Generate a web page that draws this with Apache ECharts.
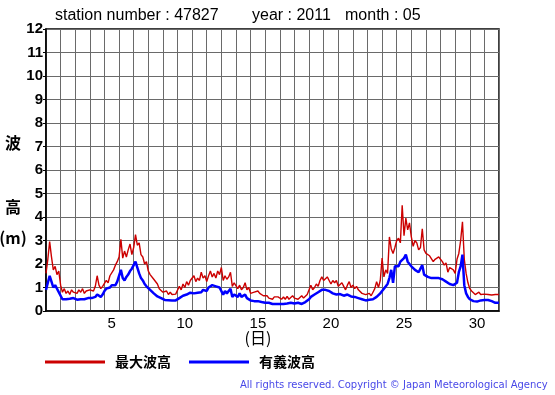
<!DOCTYPE html>
<html><head><meta charset="utf-8">
<script src="https://cdn.jsdelivr.net/npm/echarts@6/dist/echarts.min.js"></script>
<style>html,body{margin:0;padding:0;background:#fff}#c{width:555px;height:395px}</style>
</head><body><div id="c"></div>
<script>
// day labels (x categories)
const dayLabels = ['1','2','3','4','5','6','7','8','9','10','11','12','13','14','15','16','17','18','19','20','21','22','23','24','25','26','27','28','29','30','31'];
const shownDays = ['5','10','15','20','25','30'];
const yTicks = [0,1,2,3,4,5,6,7,8,9,10,11,12];
const stepDays = 0.125; // 3-hourly samples from May 1 00:00

// 最大波高 (m), 8 samples per day
const maxWave = [
 1.6,2.2,2.95,2.3,1.75,1.9,1.55,1.7,
 1.1,0.8,0.95,0.75,0.85,0.7,0.9,0.8,
 0.85,0.75,0.9,0.8,0.95,0.75,0.85,0.9,
 0.9,0.95,0.85,1.05,1.5,1.1,0.95,1.05,
 1.1,1.3,1.2,1.5,1.45,1.75,1.95,2.1,
 2.3,3.05,2.25,2.55,2.3,2.6,2.85,2.4,
 2.7,3.25,2.8,2.9,2.4,2.3,2.0,2.1,
 1.7,1.55,1.6,1.35,1.3,1.15,0.95,1.0,
 0.8,0.75,0.85,0.7,0.8,0.7,0.78,0.72,
 0.8,1.05,0.9,1.15,1.0,1.25,1.1,1.3,
 1.35,1.5,1.25,1.4,1.3,1.65,1.4,1.5,
 1.25,1.5,1.7,1.45,1.6,1.4,1.7,1.55,
 1.85,1.3,1.5,1.35,1.45,1.65,1.05,1.2,
 1.15,0.95,1.1,0.9,1.0,1.2,0.9,1.0,
 0.75,0.7,0.8,0.75,0.85,0.75,0.8,0.65,
 0.6,0.65,0.55,0.6,0.5,0.6,0.55,0.6,
 0.55,0.5,0.6,0.5,0.62,0.5,0.55,0.65,
 0.55,0.6,0.5,0.55,0.65,0.55,0.6,0.7,
 0.75,1.1,0.9,1.0,1.15,1.05,1.3,1.45,
 1.3,1.25,1.45,1.3,1.15,1.3,1.2,1.3,
 1.05,1.0,1.2,1.05,0.9,1.1,1.25,1.0,
 1.1,0.95,1.05,0.9,0.85,0.75,0.8,0.7,
 0.7,0.75,0.65,0.8,0.95,1.25,1.0,1.3,
 2.25,1.45,1.75,1.6,3.15,2.65,2.45,2.7,
 3.0,3.1,2.9,4.5,3.2,3.95,3.45,3.75,
 3.15,2.75,3.0,2.9,2.6,2.7,3.5,2.6,
 2.45,2.5,2.35,2.3,2.1,2.2,2.15,2.3,
 2.25,2.1,1.95,2.05,1.65,1.85,1.9,1.75,
 1.6,2.2,2.45,3.0,3.8,2.2,1.6,1.2,
 0.95,0.85,0.8,0.7,0.75,0.8,0.7,0.78,
 0.72,0.8,0.7,0.75,0.68,0.75,0.7,0.65,
 0.7
];
// 有義波高 (m), 8 samples per day
const sigWave = [
 0.9,1.2,1.5,1.25,1.0,1.1,0.95,1.0,
 0.65,0.5,0.55,0.5,0.48,0.52,0.5,0.55,
 0.5,0.48,0.55,0.5,0.45,0.5,0.52,0.55,
 0.5,0.55,0.5,0.6,0.7,0.65,0.6,0.7,
 0.85,0.95,0.9,1.0,1.1,1.15,1.1,1.25,
 1.3,1.75,1.4,1.3,1.45,1.55,1.7,1.8,
 1.75,2.1,1.85,1.6,1.4,1.3,1.15,1.05,
 1.0,0.9,0.82,0.75,0.7,0.62,0.6,0.55,
 0.5,0.47,0.5,0.46,0.48,0.45,0.47,0.45,
 0.5,0.55,0.6,0.65,0.62,0.7,0.75,0.78,
 0.8,0.75,0.8,0.78,0.85,0.8,0.9,0.85,
 0.85,1.0,0.95,1.1,1.15,1.05,1.1,1.0,
 0.95,0.7,0.85,0.75,0.8,0.95,0.6,0.7,
 0.7,0.6,0.75,0.6,0.65,0.7,0.55,0.5,
 0.45,0.45,0.42,0.4,0.42,0.4,0.38,0.36,
 0.35,0.33,0.35,0.32,0.3,0.32,0.3,0.32,
 0.3,0.35,0.3,0.28,0.32,0.3,0.35,0.3,
 0.32,0.3,0.35,0.33,0.3,0.35,0.38,0.42,
 0.5,0.6,0.65,0.7,0.75,0.8,0.85,0.9,
 0.88,0.9,0.92,0.85,0.8,0.75,0.72,0.7,
 0.68,0.72,0.7,0.65,0.68,0.7,0.65,0.62,
 0.65,0.6,0.58,0.55,0.55,0.5,0.48,0.45,
 0.45,0.48,0.45,0.5,0.55,0.6,0.65,0.75,
 0.85,0.95,1.0,1.15,1.4,1.75,1.2,1.9,
 1.95,1.9,2.1,2.05,2.25,2.4,2.1,2.0,
 1.9,1.95,1.75,1.8,1.65,1.8,1.95,1.55,
 1.5,1.45,1.45,1.4,1.45,1.4,1.35,1.4,
 1.4,1.35,1.3,1.25,1.2,1.15,1.2,1.1,
 1.05,1.2,1.65,1.9,2.4,1.1,0.75,0.6,
 0.5,0.45,0.42,0.4,0.4,0.42,0.45,0.48,
 0.47,0.45,0.47,0.45,0.42,0.4,0.35,0.33,
 0.35
];

const toPairs = arr => arr.map((v, i) => [i * stepDays, v]);
const chart = echarts.init(document.getElementById('c'), null, {renderer: 'canvas'});
const latin = '"Liberation Sans", Arial, sans-serif';
const cjk = '"Noto Sans CJK JP", sans-serif';

chart.setOption({
  animation: false,
  backgroundColor: '#fff',
  grid: {left: 46, right: 56, top: 29, bottom: 84, show: true, borderColor: '#000', borderWidth: 1.5, backgroundColor: 'transparent'},
  xAxis: [
    {type: 'category', data: dayLabels, boundaryGap: true,
     axisLine: {lineStyle: {color: '#000', width: 1.5}},
     axisTick: {show: false},
     axisLabel: {interval: 0, margin: 5, color: '#000', fontFamily: latin, fontSize: 15,
       formatter: v => shownDays.includes(v) ? v : ''},
     splitLine: {show: true, interval: 0, lineStyle: {color: '#6a6a6a', width: 1}}},
    {type: 'value', min: 0, max: dayLabels.length, show: false}
  ],
  yAxis: {type: 'value', min: yTicks[0], max: yTicks[yTicks.length - 1], interval: 1,
    axisLine: {show: true, lineStyle: {color: '#000', width: 1.5}},
    axisTick: {show: true, length: 3, lineStyle: {color: '#000'}},
    axisLabel: {margin: 3, color: '#000', fontFamily: latin, fontSize: 15, fontWeight: 'bold'},
    splitLine: {show: true, lineStyle: {color: '#6a6a6a', width: 1}}},
  legend: {left: 45, top: 355, padding: 0, icon: 'rect', itemWidth: 60, itemHeight: 3, itemGap: 18,
    textStyle: {fontFamily: cjk, fontSize: 14, fontWeight: 'bold', color: '#000', padding: [0, 0, 0, 5]},
    data: ['最大波高', '有義波高']},
  graphic: [
    {type: 'text', left: 55, top: 8, style: {text: 'station number : 47827', font: '16px "Liberation Sans", Arial, sans-serif', fill: '#000'}},
    {type: 'text', left: 252, top: 8, style: {text: 'year : 2011', font: '16px "Liberation Sans", Arial, sans-serif', fill: '#000'}},
    {type: 'text', left: 345, top: 8, style: {text: 'month : 05', font: '16px "Liberation Sans", Arial, sans-serif', fill: '#000'}},
    {type: 'text', x: 13, y: 143, style: {text: '波', font: 'bold 16px "Noto Sans CJK JP", sans-serif', fill: '#000', align: 'center', verticalAlign: 'middle'}},
    {type: 'text', x: 13, y: 207, style: {text: '高', font: 'bold 16px "Noto Sans CJK JP", sans-serif', fill: '#000', align: 'center', verticalAlign: 'middle'}},
    {type: 'text', x: 13, y: 238, style: {text: '(m)', font: 'bold 16px "Noto Sans CJK JP", sans-serif', fill: '#000', align: 'center', verticalAlign: 'middle'}},
    {type: 'text', x: 258, y: 338, style: {text: '(日)', font: '16px "Noto Sans CJK JP", sans-serif', fill: '#000', align: 'center', verticalAlign: 'middle'}},
    {type: 'text', x: 240, y: 385, style: {text: 'All rights reserved. Copyright © Japan Meteorological Agency', font: '10px "DejaVu Sans", sans-serif', fill: '#4848e8', align: 'left', verticalAlign: 'middle'}}
  ],
  series: [
    {name: '最大波高', type: 'line', xAxisIndex: 1, data: toPairs(maxWave), showSymbol: false,
     itemStyle: {color: '#cc0000'}, lineStyle: {color: '#cc0000', width: 1.4}},
    {name: '有義波高', type: 'line', xAxisIndex: 1, data: toPairs(sigWave), showSymbol: false,
     itemStyle: {color: '#0000ff'}, lineStyle: {color: '#0000ff', width: 2.5}}
  ]
});
</script></body></html>
